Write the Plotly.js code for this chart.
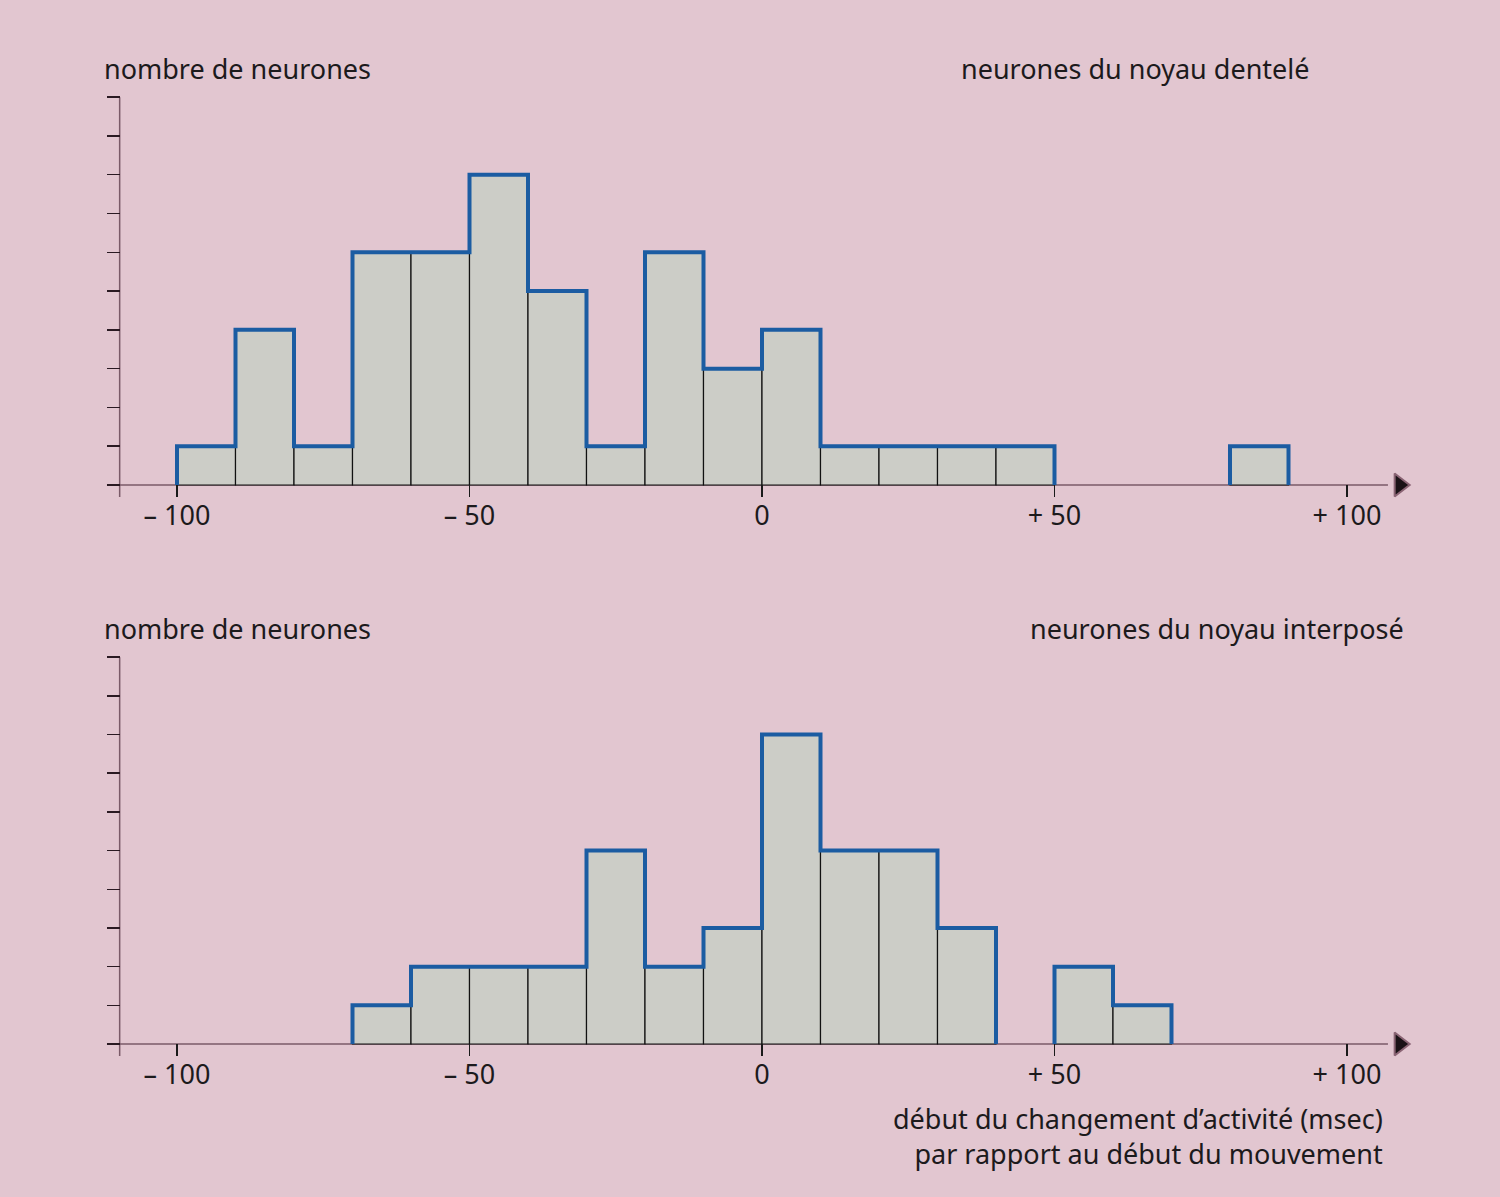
<!DOCTYPE html>
<html>
<head>
<meta charset="utf-8">
<script src="https://cdn.plot.ly/plotly-3.0.1.min.js"></script>
<style>
  html, body { margin: 0; padding: 0; background: #e2c6d0; }
  #chart { width: 1500px; height: 1197px; }
</style>
</head>
<body>
<div id="chart"></div>
<script>
// bin starts (msec), width 10
const binStarts = [-100, -90, -80, -70, -60, -50, -40, -30, -20, -10, 0, 10, 20, 30, 40, 50, 60, 70, 80];
const binWidth = 10;

// nombre de neurones par classe
const dentele =    [1, 4, 1, 6, 6, 8, 5, 1, 6, 3, 4, 1, 1, 1, 1, 0, 0, 0, 1];
const interpose =  [0, 0, 0, 1, 2, 2, 2, 5, 2, 3, 8, 5, 5, 3, 0, 2, 1, 0, 0];

const tickVals = [-100, -50, 0, 50, 100];
const tickText = ['– 100', '– 50', '0', '+ 50', '+ 100'];

const bg = '#e2c6d0';
const fillGrey = '#cccdc7';
const blue = '#1b5ca2';
const axisCol = '#7a5a68';
const font = { family: 'Noto Sans, Open Sans, sans-serif', size: 27, color: '#1c1a1c' };

// outline of the histogram (steps), broken where the count is zero
function outline(counts) {
  const xs = [], ys = [];
  let inRun = false;
  for (let i = 0; i < counts.length; i++) {
    const x0 = binStarts[i], x1 = x0 + binWidth;
    if (counts[i] > 0) {
      if (!inRun) { xs.push(x0); ys.push(0); inRun = true; }
      xs.push(x0, x1); ys.push(counts[i], counts[i]);
    } else if (inRun) {
      xs.push(x0); ys.push(0);
      xs.push(null); ys.push(null);
      inRun = false;
    }
  }
  if (inRun) { xs.push(binStarts[counts.length - 1] + binWidth); ys.push(0); }
  return { xs, ys };
}

function histTraces(counts, xa, ya) {
  const o = outline(counts);
  return [
    {
      type: 'bar', x: binStarts.map(b => b + binWidth / 2),
      y: counts.map(c => (c > 0 ? c : null)), width: binWidth,
      xaxis: xa, yaxis: ya,
      marker: { color: fillGrey, line: { color: '#111', width: 1.2 } },
      hoverinfo: 'skip'
    },
    {
      type: 'scatter', mode: 'lines', x: o.xs, y: o.ys, xaxis: xa, yaxis: ya,
      line: { color: blue, width: 4 }, connectgaps: false, hoverinfo: 'skip'
    },
    {
      type: 'scatter', mode: 'markers', x: [109], y: [0], xaxis: xa, yaxis: ya,
      marker: { symbol: 'triangle-right', size: 20, color: '#1a1216', line: { color: '#8a6474', width: 2 } },
      cliponaxis: false, hoverinfo: 'skip'
    }
  ];
}

const data = [...histTraces(dentele, 'x', 'y'), ...histTraces(interpose, 'x2', 'y2')];

const xDom = [106.8 / 1500, 1417.2 / 1500];
function xAxis(anchor) {
  return {
    domain: xDom, range: [-112, 112], anchor: anchor,
    showgrid: false, zeroline: false, showline: false,
    tickmode: 'array', tickvals: tickVals, ticktext: tickText,
    ticks: 'inside', ticklen: 12, tickwidth: 1.5, tickcolor: '#1a1a1a',
    tickfont: font, fixedrange: true
  };
}
function yAxis(anchor, dom) {
  return {
    domain: dom, range: [-0.31, 10.03], anchor: anchor,
    showgrid: false, zeroline: false, showline: false,
    tickmode: 'linear', tick0: 0, dtick: 1,
    ticks: 'inside', ticklen: 13, tickwidth: 1.5, tickcolor: '#2a1a22',
    showticklabels: false, fixedrange: true
  };
}

function axisLines(xr, yr) {
  return [
    { type: 'line', xref: xr, yref: yr, x0: -109.8, x1: -109.8, y0: -0.31, y1: 10,
      line: { color: axisCol, width: 1.5 }, layer: 'below' },
    { type: 'line', xref: xr, yref: yr, x0: -112, x1: 107, y0: 0, y1: 0,
      line: { color: axisCol, width: 1.5 }, layer: 'below' }
  ];
}

function label(text, px, py, anchor) {
  return { text: text, xref: 'paper', yref: 'paper', x: px / 1500, y: 1 - py / 1197,
    xanchor: anchor, yanchor: 'middle', align: anchor, showarrow: false, font: font };
}

const layout = {
  width: 1500, height: 1197,
  paper_bgcolor: bg, plot_bgcolor: 'rgba(0,0,0,0)',
  margin: { l: 0, r: 0, t: 0, b: 0 },
  showlegend: false, bargap: 0, hovermode: false,
  xaxis: xAxis('y'),
  yaxis: yAxis('x', [1 - 497 / 1197, 1 - 96 / 1197]),
  xaxis2: xAxis('y2'),
  yaxis2: yAxis('x2', [1 - 1056 / 1197, 1 - 656 / 1197]),
  shapes: [...axisLines('x', 'y'), ...axisLines('x2', 'y2')],
  annotations: [
    label('nombre de neurones', 102, 68, 'left'),
    label('neurones du noyau dentelé', 1312, 68, 'right'),
    label('nombre de neurones', 102, 628, 'left'),
    label('neurones du noyau interposé', 1406, 628, 'right'),
    label('début du changement d’activité (msec)<br>par rapport au début du mouvement', 1385, 1136, 'right')
  ]
};

Plotly.newPlot('chart', data, layout, { displayModeBar: false, staticPlot: true });
</script>
</body>
</html>
